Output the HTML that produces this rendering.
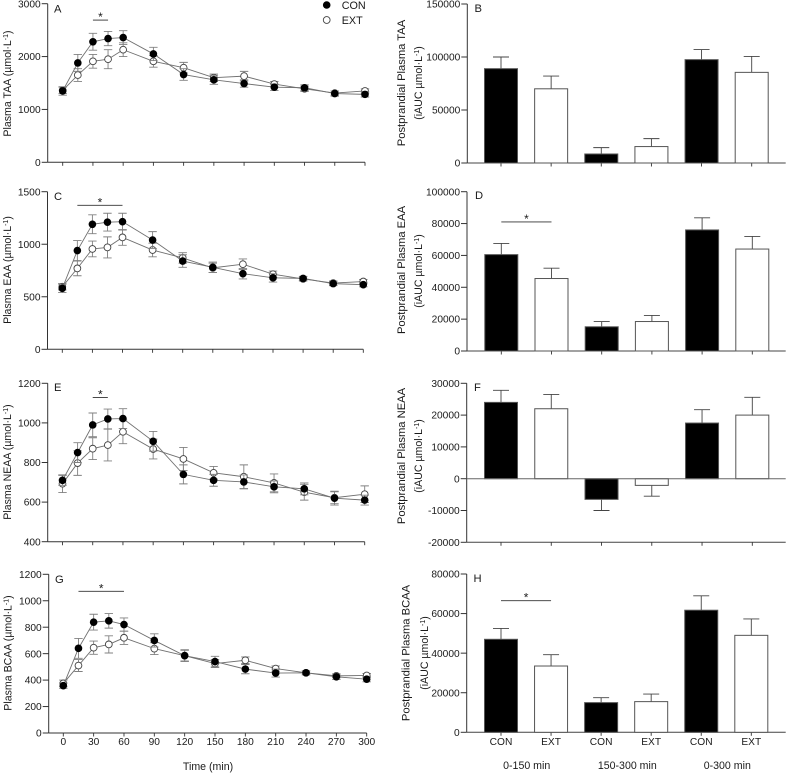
<!DOCTYPE html>
<html>
<head>
<meta charset="utf-8">
<title>Plasma amino acid responses</title>
<style>
html,body{margin:0;padding:0;background:#fff;}
svg{display:block;font-family:"Liberation Sans",Arial,sans-serif;fill:#1a1a1a;}
text{font-size:10.2px;}
.t{font-size:10.6px;}
.p{font-size:11.2px;}
</style>
</head>
<body>
<svg id="figure" xmlns="http://www.w3.org/2000/svg" width="787" height="774" viewBox="0 0 787 774">
  <rect x="0" y="0" width="787" height="774" fill="#fff"/>

  <g>
    <text class="p" x="54" y="12.5">A</text>
    <text class="p" x="54" y="200">C</text>
    <text class="p" x="54" y="391">E</text>
    <text class="p" x="55" y="583">G</text>
    <text class="p" x="474.5" y="12">B</text>
    <text class="p" x="475" y="199">D</text>
    <text class="p" x="474" y="391">F</text>
    <text class="p" x="473.5" y="582">H</text>
  </g>

  <g text-anchor="middle">
    <text class="t" transform="translate(11,83.5) rotate(-90)">Plasma TAA (µmol·L<tspan dy="-3" font-size="7">-1</tspan><tspan dy="3">)</tspan></text>
    <text class="t" transform="translate(11,270) rotate(-90)">Plasma EAA (µmol·L<tspan dy="-3" font-size="7">-1</tspan><tspan dy="3">)</tspan></text>
    <text class="t" transform="translate(11,462) rotate(-90)">Plasma NEAA (µmol·L<tspan dy="-3" font-size="7">-1</tspan><tspan dy="3">)</tspan></text>
    <text class="t" transform="translate(11.5,653) rotate(-90)">Plasma BCAA (µmol·L<tspan dy="-3" font-size="7">-1</tspan><tspan dy="3">)</tspan></text>

    <text class="p" transform="translate(405,83) rotate(-90)">Postprandial Plasma TAA</text>
    <text class="t" transform="translate(422,83) rotate(-90)">(iAUC µmol·L<tspan dy="-3" font-size="7">-1</tspan><tspan dy="3">)</tspan></text>
    <text class="p" transform="translate(405,270) rotate(-90)">Postprandial Plasma EAA</text>
    <text class="t" transform="translate(422,271) rotate(-90)">(iAUC µmol·L<tspan dy="-3" font-size="7">-1</tspan><tspan dy="3">)</tspan></text>
    <text class="p" transform="translate(405,456) rotate(-90)">Postprandial Plasma NEAA</text>
    <text class="t" transform="translate(422,456) rotate(-90)">(iAUC µmol·L<tspan dy="-3" font-size="7">-1</tspan><tspan dy="3">)</tspan></text>
    <text class="p" transform="translate(409.5,653) rotate(-90)">Postprandial Plasma BCAA</text>
    <text class="t" transform="translate(428,653) rotate(-90)">(iAUC µmol·L<tspan dy="-3" font-size="7">-1</tspan><tspan dy="3">)</tspan></text>
  </g>

  <text class="t" x="208" y="770" text-anchor="middle">Time (min)</text>

  <g text-anchor="middle">
    <text class="t" x="526.7" y="769">0-150 min</text>
    <text class="t" x="627.3" y="769">150-300 min</text>
    <text class="t" x="727.3" y="769">0-300 min</text>
  </g>

  <g>
    <circle cx="326.7" cy="5" r="3.8" fill="#000"/>
    <text x="341.7" y="9" style="font-size:10.8px">CON</text>
    <circle cx="326.7" cy="20" r="3.4" fill="#fff" stroke="#444" stroke-width="0.9"/>
    <text x="341.7" y="24" style="font-size:10.8px">EXT</text>
  </g>
</svg>

<script>
// ---- shared categories ----
const times = [0, 15, 30, 45, 60, 90, 120, 150, 180, 210, 240, 270, 300];
const timeTicks = [0, 30, 60, 90, 120, 150, 180, 210, 240, 270, 300];
const barCategories = ['CON', 'EXT', 'CON', 'EXT', 'CON', 'EXT'];

// ---- panel A: plasma TAA ----
const taaCon = [1350, 1880, 2280, 2340, 2360, 2050, 1660, 1560, 1490, 1420, 1410, 1300, 1285];
const taaConErr = [80, 160, 160, 135, 130, 125, 110, 85, 70, 60, 55, 50, 50];
const taaExt = [1360, 1650, 1910, 1950, 2130, 1910, 1790, 1600, 1630, 1480, 1390, 1310, 1350];
const taaExtErr = [60, 120, 130, 180, 130, 110, 100, 70, 90, 50, 50, 40, 40];
const taaTicks = [0, 1000, 2000, 3000];
const taaSigTimes = [30, 45];
const taaSigLevel = 2690;

// ---- panel C: plasma EAA ----
const eaaCon = [580, 940, 1190, 1210, 1215, 1040, 840, 780, 720, 680, 675, 625, 615];
const eaaConErr = [40, 95, 90, 85, 80, 80, 60, 50, 50, 40, 20, 20, 20];
const eaaExt = [595, 770, 955, 970, 1065, 945, 870, 775, 810, 715, 670, 630, 645];
const eaaExtErr = [30, 70, 75, 100, 75, 65, 50, 45, 50, 30, 20, 20, 20];
const eaaTicks = [0, 500, 1000, 1500];
const eaaSigTimes = [15, 60];
const eaaSigLevel = 1370;

// ---- panel E: plasma NEAA ----
const neaaCon = [710, 850, 990, 1020, 1022, 907, 740, 710, 702, 677, 667, 620, 610];
const neaaConErr = [25, 50, 60, 50, 50, 50, 48, 30, 35, 30, 30, 35, 25];
const neaaExt = [693, 797, 870, 888, 955, 868, 818, 748, 728, 697, 650, 622, 640];
const neaaExtErr = [45, 62, 55, 80, 60, 50, 58, 32, 60, 45, 40, 30, 42];
const neaaTicks = [400, 600, 800, 1000, 1200];
const neaaSigTimes = [30, 45];
const neaaSigLevel = 1128;

// ---- panel G: plasma BCAA ----
const bcaaCon = [358, 640, 838, 848, 820, 700, 585, 540, 483, 453, 455, 425, 407];
const bcaaConErr = [20, 75, 60, 55, 50, 50, 45, 40, 35, 30, 15, 20, 20];
const bcaaExt = [375, 510, 645, 670, 720, 638, 585, 525, 550, 487, 455, 432, 435];
const bcaaExtErr = [25, 45, 50, 65, 50, 45, 40, 30, 25, 20, 15, 15, 15];
const bcaaTicks = [0, 200, 400, 600, 800, 1000, 1200];
const bcaaSigTimes = [15, 60];
const bcaaSigLevel = 1071;

// ---- panel B: TAA iAUC ----
const taaAuc = [89000, 70000, 8500, 15500, 97500, 85500];
const taaAucErr = [11000, 12000, 6000, 7500, 9500, 15000];
const taaAucTicks = [0, 50000, 100000, 150000];

// ---- panel D: EAA iAUC ----
const eaaAuc = [60500, 45500, 15200, 18500, 76000, 64000];
const eaaAucErr = [7000, 6500, 3300, 3800, 7600, 7900];
const eaaAucTicks = [0, 20000, 40000, 60000, 80000, 100000];
const eaaAucSigBars = [0, 1];
const eaaAucSigLevel = 81000;

// ---- panel F: NEAA iAUC ----
const neaaAuc = [24000, 22000, -6500, -2100, 17500, 20000];
const neaaAucErr = [3800, 4500, 3500, 3400, 4200, 5600];
const neaaAucTicks = [-20000, -10000, 0, 10000, 20000, 30000];

// ---- panel H: BCAA iAUC ----
const bcaaAuc = [47000, 33500, 15000, 15500, 61700, 49000];
const bcaaAucErr = [5500, 5700, 2500, 3800, 7300, 8300];
const bcaaAucTicks = [0, 20000, 40000, 60000, 80000];
const bcaaAucSigBars = [0, 1];
const bcaaAucSigLevel = 66500;

const NS = 'http://www.w3.org/2000/svg';
const figure = document.getElementById('figure');

function make(tag, parent, attrs) {
  const el = document.createElementNS(NS, tag);
  for (const k in attrs) el.setAttribute(k, attrs[k]);
  parent.appendChild(el);
  return el;
}
function linearScale(d0, d1, r0, r1) {
  return function (v) { return r0 + (v - d0) / (d1 - d0) * (r1 - r0); };
}

function yAxis(g, key, axisX, y, ticks, top, bottom) {
  const axis = make('line', g, {x1: axisX, x2: axisX, y1: top, y2: bottom, stroke: '#333', 'stroke-width': 1});
  
  
  ticks.forEach(function (t) {
    const tick = make('line', g, {x1: axisX - 6, x2: axisX, y1: y(t), y2: y(t), stroke: '#333', 'stroke-width': 1});
    
    
    const label = make('text', g, {x: axisX - 7, y: y(t) + 3.6, 'text-anchor': 'end'});
    
    
    label.textContent = String(t);
  });
}

function sigMark(g, key, x0, x1, yPos) {
  const bar = make('line', g, {x1: x0, x2: x1, y1: yPos, y2: yPos, stroke: '#333', 'stroke-width': 0.9});
  
  
  const star = make('text', g, {x: (x0 + x1) / 2, y: yPos + 1, 'text-anchor': 'middle', style: 'font-size:12px'});
  
  
  star.textContent = '*';
}

function lineSeries(g, key, series, x, y, values, errors, filled) {
  const sg = make('g', g, {});
  
  
  const pts = values.map(function (v, i) { return x(times[i]) + ',' + y(v); }).join(' ');
  const path = make('polyline', sg, {points: pts, fill: 'none', stroke: '#707070', 'stroke-width': 0.9});
  
  
  values.forEach(function (v, i) {
    const px = x(times[i]);
    const hi = y(v + errors[i]);
    const lo = y(v - errors[i]);
    const err = make('path', sg, {
      d: 'M' + px + ' ' + hi + 'V' + lo + 'M' + (px - 4.2) + ' ' + hi + 'H' + (px + 4.2) + 'M' + (px - 4.2) + ' ' + lo + 'H' + (px + 4.2),
      fill: 'none', stroke: '#808080', 'stroke-width': 0.9
    });
    
    
  });
  values.forEach(function (v, i) {
    const attrs = filled
      ? {cx: x(times[i]), cy: y(v), r: 3.8, fill: '#000'}
      : {cx: x(times[i]), cy: y(v), r: 3.4, fill: '#fff', stroke: '#444', 'stroke-width': 0.9};
    const pt = make('circle', sg, attrs);
    
    
  });
}

function linePanel(o) {
  const g = make('g', figure, {});
  
  
  const x = linearScale(0, 300, o.x0, o.x1);
  const ticks = o.ticks;
  const y = linearScale(ticks[0], ticks[ticks.length - 1], o.yBottom, o.yTop);
  yAxis(g, o.key, o.axisX, y, ticks, o.yTop, o.yBottom);
  const xAxis = make('line', g, {x1: o.axisX, x2: o.x1, y1: o.yBottom, y2: o.yBottom, stroke: '#333', 'stroke-width': 1});
  
  
  timeTicks.forEach(function (t) {
    const tick = make('line', g, {x1: x(t), x2: x(t), y1: o.yBottom, y2: o.yBottom + 3.5, stroke: '#333', 'stroke-width': 0.9});
    
    
    if (o.showLabels) {
      const label = make('text', g, {x: x(t), y: o.yBottom + 12, 'text-anchor': 'middle'});
      
      
      label.textContent = String(t);
    }
  });
  lineSeries(g, o.key, 'ext', x, y, o.ext, o.extErr, false);
  lineSeries(g, o.key, 'con', x, y, o.con, o.conErr, true);
  sigMark(g, o.key, x(o.sigTimes[0]), x(o.sigTimes[1]), y(o.sigLevel));
}

function barPanel(o) {
  const g = make('g', figure, {});
  
  
  const ticks = o.ticks;
  const y = linearScale(ticks[0], ticks[ticks.length - 1], o.yBottom, o.yTop);
  const x = linearScale(0, 5, o.x0, o.x1);
  const barW = 33;
  yAxis(g, o.key, o.axisX, y, ticks, o.yTop, o.yBottom);
  const xAxis = make('line', g, {x1: o.axisX, x2: 785.7, y1: o.yBottom, y2: o.yBottom, stroke: '#444', 'stroke-width': 1});
  
  
  barCategories.forEach(function (c, i) {
    const tick = make('line', g, {x1: x(i), x2: x(i), y1: o.yBottom, y2: o.yBottom + 3.5, stroke: '#333', 'stroke-width': 0.9});
    
    
    if (o.showLabels) {
      const label = make('text', g, {x: x(i), y: o.yBottom + 12.7, 'text-anchor': 'middle'});
      
      
      label.textContent = c;
    }
  });
  o.values.forEach(function (v, i) {
    const dir = v >= 0 ? 1 : -1;
    const tip = y(v + dir * o.errors[i]);
    const err = make('path', g, {
      d: 'M' + x(i) + ' ' + y(v) + 'V' + tip + 'M' + (x(i) - 8) + ' ' + tip + 'H' + (x(i) + 8),
      fill: 'none', stroke: '#444', 'stroke-width': 0.9
    });
    
    
    const top = Math.min(y(v), y(0));
    const h = Math.abs(y(v) - y(0));
    const rect = make('rect', g, {
      x: x(i) - barW / 2, y: top, width: barW, height: h,
      fill: barCategories[i] === 'CON' ? '#000' : '#fff', stroke: '#555', 'stroke-width': 1
    });
    
    
  });
  if (ticks[0] < 0) {
    const zero = make('line', g, {x1: o.axisX, x2: 785.7, y1: y(0), y2: y(0), stroke: '#666', 'stroke-width': 1});
    
    
  }
  if (o.sigBars) {
    sigMark(g, o.key, x(o.sigBars[0]), x(o.sigBars[1]), y(o.sigLevel));
  }
}

linePanel({key: 'a', axisX: 47.7, x0: 62.7, x1: 365, yTop: 3.7, yBottom: 162.3, ticks: taaTicks,
  con: taaCon, conErr: taaConErr, ext: taaExt, extErr: taaExtErr, sigTimes: taaSigTimes, sigLevel: taaSigLevel});
linePanel({key: 'c', axisX: 47.5, x0: 62.3, x1: 363.3, yTop: 191.7, yBottom: 349.3, ticks: eaaTicks,
  con: eaaCon, conErr: eaaConErr, ext: eaaExt, extErr: eaaExtErr, sigTimes: eaaSigTimes, sigLevel: eaaSigLevel});
linePanel({key: 'e', axisX: 47.7, x0: 62.5, x1: 364.7, yTop: 383.3, yBottom: 541.7, ticks: neaaTicks,
  con: neaaCon, conErr: neaaConErr, ext: neaaExt, extErr: neaaExtErr, sigTimes: neaaSigTimes, sigLevel: neaaSigLevel});
linePanel({key: 'g', axisX: 48.7, x0: 63.3, x1: 366.7, yTop: 574.3, yBottom: 733, ticks: bcaaTicks, showLabels: true,
  con: bcaaCon, conErr: bcaaConErr, ext: bcaaExt, extErr: bcaaExtErr, sigTimes: bcaaSigTimes, sigLevel: bcaaSigLevel});

barPanel({key: 'b', axisX: 467.3, x0: 501, x1: 751.7, yTop: 4, yBottom: 163, ticks: taaAucTicks,
  values: taaAuc, errors: taaAucErr});
barPanel({key: 'd', axisX: 467, x0: 501.3, x1: 752.3, yTop: 191.7, yBottom: 351, ticks: eaaAucTicks,
  values: eaaAuc, errors: eaaAucErr, sigBars: eaaAucSigBars, sigLevel: eaaAucSigLevel});
barPanel({key: 'f', axisX: 466.7, x0: 501, x1: 752.3, yTop: 383.3, yBottom: 542.3, ticks: neaaAucTicks,
  values: neaaAuc, errors: neaaAucErr});
barPanel({key: 'h', axisX: 466.7, x0: 501, x1: 751.3, yTop: 574, yBottom: 732.3, ticks: bcaaAucTicks, showLabels: true,
  values: bcaaAuc, errors: bcaaAucErr, sigBars: bcaaAucSigBars, sigLevel: bcaaAucSigLevel});
</script>
</body>
</html>
